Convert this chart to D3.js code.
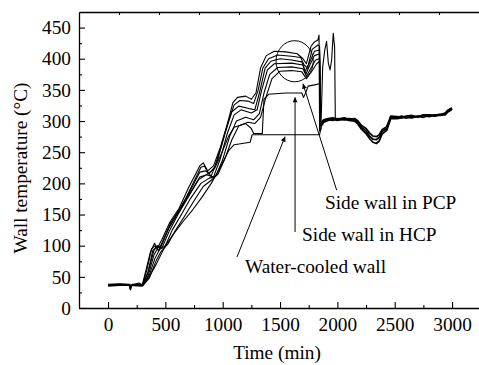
<!DOCTYPE html>
<html>
<head>
<meta charset="utf-8">
<script src="https://cdn.jsdelivr.net/npm/d3@7"></script>
<style>
  body { margin: 0; background: #fff; }
  svg { display: block; }
  svg text { font-family: 'Liberation Serif', 'Times New Roman', serif; }
</style>
</head>
<body>
<div id="chart"></div>
<script>
// [time (min), wall temperature (°C)]
const waterCooled = [[0,36],[100,37],[185,36],[192,30],[200,36],[260,38],[300,36],[360,50],[420,70],[500,100],[580,121],[660,140],[740,158],[820,178],[900,200],[980,226],[1050,252],[1100,262],[1240,266],[1256,278],[1845,278],[1860,292]];
const hcpWall = [[0,37],[100,38],[190,37],[197,31],[205,37],[270,40],[300,37],[350,58],[390,92],[420,98],[460,100],[530,128],[610,152],[700,180],[790,206],[860,214],[930,224],[990,248],[1050,275],[1100,290],[1200,296],[1250,288],[1270,280],[1345,280],[1360,335],[1400,343],[1550,345],[1690,345],[1705,338],[1725,346],[1745,356],[1800,358],[1845,360],[1852,292],[1860,293]];
const pcp1 = [[0,38],[100,39],[190,38],[200,33],[210,38],[300,38],[330,60],[370,90],[405,104],[430,96],[470,110],[540,138],[620,160],[700,192],[800,228],[830,233],[870,220],[920,228],[980,258],[1040,295],[1090,330],[1130,338],[1200,340],[1250,335],[1290,345],[1330,385],[1380,405],[1450,412],[1550,411],[1650,408],[1700,400],[1730,392],[1770,420],[1800,427],[1830,430],[1840,438],[1845,284],[1856,286],[1872,387],[1890,414],[1906,428],[1921,393],[1936,382],[1950,398],[1964,441],[1976,419],[1982,305],[1990,303]];
const pcp2 = [[0,37],[100,38],[190,37],[197,29],[205,37],[300,36],[340,62],[380,95],[410,100],[440,92],[480,108],[550,138],[630,158],[710,188],[810,226],[840,228],[880,215],[930,226],[990,262],[1050,300],[1100,326],[1150,333],[1220,332],[1270,328],[1310,350],[1350,385],[1400,400],[1480,406],[1600,404],[1680,402],[1710,390],[1740,385],[1780,415],[1830,422],[1845,420],[1852,300],[1860,295]];
const pcp3 = [[0,36],[100,37],[190,36],[300,37],[345,55],[400,92],[430,100],[460,97],[520,125],[600,152],[700,182],[800,218],[850,220],[900,212],[960,240],[1020,280],[1080,315],[1140,324],[1230,320],[1280,318],[1320,345],[1370,385],[1420,396],[1500,400],[1600,398],[1690,395],[1720,380],[1760,395],[1800,412],[1845,414],[1852,300],[1860,296]];
const pcp4 = [[0,36],[100,37],[300,36],[350,52],[400,85],[440,98],[470,96],[530,122],[610,150],[700,178],[800,210],[860,214],[920,210],[980,240],[1040,280],[1100,310],[1160,318],[1250,313],[1300,318],[1340,350],[1390,382],[1450,392],[1600,393],[1700,390],[1725,375],[1760,390],[1800,405],[1845,408],[1852,298],[1860,295]];
const pcp5 = [[0,35],[100,36],[300,36],[355,50],[410,80],[450,94],[500,100],[560,125],[640,150],[720,176],[810,200],[880,208],[940,212],[1000,238],[1060,275],[1120,300],[1200,306],[1270,302],[1320,312],[1360,345],[1410,375],[1480,386],[1600,387],[1700,384],[1730,372],[1770,385],[1810,398],[1845,400],[1852,296],[1860,293]];
const pcp6 = [[0,36],[100,37],[300,35],[360,48],[420,76],[460,90],[520,102],[590,125],[670,148],[750,172],[830,195],[900,205],[960,215],[1020,240],[1080,270],[1140,292],[1220,298],[1280,296],[1330,306],[1380,340],[1430,368],[1500,380],[1600,381],[1690,379],[1730,368],[1770,378],[1820,392],[1845,396],[1852,294],[1860,292]];
// after ~1860 min all thermocouples run together
const tailA = [[1860,295],[1880,300],[1920,303],[1960,301],[2000,304],[2060,302],[2100,304],[2150,302],[2180,298],[2210,290],[2250,284],[2280,276],[2310,271],[2340,270],[2365,274],[2390,283],[2430,288],[2455,300],[2465,306],[2520,306],[2560,308],[2600,305],[2650,308],[2700,307],[2750,309],[2800,307],[2850,310],[2900,309],[2940,312],[2960,316],[2985,319],[3000,318]];
const tailB = [[1860,292],[1880,298],[1920,301],[1960,303],[2000,301],[2060,303],[2100,301],[2150,300],[2180,295],[2210,287],[2250,280],[2280,272],[2310,266],[2340,264],[2365,268],[2390,279],[2430,285],[2455,298],[2465,304],[2520,304],[2560,305],[2600,306],[2650,305],[2700,308],[2750,306],[2800,309],[2850,308],[2900,310],[2940,310],[2960,314],[2985,317],[3000,320]];
const tailC = [[1860,297],[1880,302],[1920,304],[1960,305],[2000,303],[2060,305],[2100,303],[2150,304],[2180,300],[2210,293],[2250,288],[2280,281],[2310,276],[2340,275],[2365,278],[2390,286],[2430,291],[2455,303],[2465,308],[2520,307],[2560,306],[2600,308],[2650,309],[2700,306],[2750,310],[2800,310],[2850,309],[2900,311],[2940,313],[2960,317],[2985,320],[3000,321]];

const series = [waterCooled, hcpWall, pcp1, pcp2, pcp3, pcp4, pcp5, pcp6];
const tails = [tailA, tailB, tailC];

const xTicks = [0, 500, 1000, 1500, 2000, 2500, 3000];
const xMinorTicks = [250, 750, 1250, 1750, 2250, 2750];
const yTicks = [0, 50, 100, 150, 200, 250, 300, 350, 400, 450];
const yMinorTicks = [25, 75, 125, 175, 225, 275, 325, 375, 425];

// highlighted region (circle) : [tmin, tmax, Tmin, Tmax]
const circleBox = [1465, 1790, 363, 429];

const labels = [
  { text: 'Side wall in PCP', x: 1892, y: 159 },
  { text: 'Side wall in HCP', x: 1692, y: 107.5 },
  { text: 'Water-cooled wall', x: 1195, y: 56 }
];
const arrows = [
  { from: [1994, 189], to: [1700, 360] },
  { from: [1631, 122], to: [1631, 338] },
  { from: [1125, 82], to: [1544, 275] }
];

const margin = { top: 12, right: 0, bottom: 57, left: 79 };
const width = 479 - margin.left - margin.right;
const height = 365 - margin.top - margin.bottom;
const fontSize = 19.3;
const serif = "'Liberation Serif', 'Times New Roman', serif";

const svg = d3.select('#chart')
  .append('svg')
  .attr('width', width + margin.left + margin.right)
  .attr('height', height + margin.top + margin.bottom);

const g = svg.append('g')
  .attr('transform', 'translate(' + margin.left + ',' + margin.top + ')');

const x = d3.scaleLinear().domain([-253, 3235]).range([0, width]);
const y = d3.scaleLinear().domain([0, 475]).range([height, 0]);
const topScale = d3.scaleLinear().domain([0, 10]).range([0, width]);

// axes
g.append('g')
  .attr('class', 'axis')
  .attr('transform', 'translate(0,' + height + ')')
  .call(d3.axisBottom(x).tickValues(xTicks).tickFormat(d3.format('d'))
    .tickSizeInner(-6).tickSizeOuter(0).tickPadding(9.5));
g.append('g')
  .attr('class', 'axis')
  .attr('transform', 'translate(0,' + height + ')')
  .call(d3.axisBottom(x).tickValues(xMinorTicks).tickSize(-3).tickFormat(''))
  .select('.domain').remove();

g.append('g')
  .attr('class', 'axis')
  .call(d3.axisLeft(y).tickValues(yTicks).tickFormat(d3.format('d'))
    .tickSizeInner(-6).tickSizeOuter(0).tickPadding(8));
g.append('g')
  .attr('class', 'axis')
  .call(d3.axisLeft(y).tickValues(yMinorTicks).tickSize(-3).tickFormat(''))
  .select('.domain').remove();

g.append('g')
  .attr('class', 'axis')
  .call(d3.axisTop(topScale).tickValues(d3.range(1, 10)).tickSizeInner(-3).tickSizeOuter(0).tickFormat(''));

g.selectAll('.axis')
  .attr('font-family', serif)
  .attr('font-size', fontSize);
g.selectAll('.domain').attr('stroke', '#000').attr('stroke-width', 1.3);
g.selectAll('.tick line').attr('stroke', '#000').attr('stroke-width', 1.1);
g.selectAll('.tick text').attr('fill', '#000');

// data lines
const line = d3.line()
  .x(d => x(d[0]))
  .y(d => y(d[1]));

g.selectAll('.series')
  .data(series)
  .join('path')
  .attr('class', 'series')
  .attr('fill', 'none')
  .attr('stroke', '#000')
  .attr('stroke-width', 1.1)
  .attr('stroke-linejoin', 'round')
  .attr('d', line);

g.selectAll('.tail')
  .data(tails)
  .join('path')
  .attr('class', 'tail')
  .attr('fill', 'none')
  .attr('stroke', '#000')
  .attr('stroke-width', 1.7)
  .attr('stroke-linejoin', 'round')
  .attr('d', line);

// circle round the peaks
g.append('ellipse')
  .attr('cx', (x(circleBox[0]) + x(circleBox[1])) / 2)
  .attr('cy', (y(circleBox[2]) + y(circleBox[3])) / 2)
  .attr('rx', (x(circleBox[1]) - x(circleBox[0])) / 2)
  .attr('ry', (y(circleBox[2]) - y(circleBox[3])) / 2)
  .attr('fill', 'none')
  .attr('stroke', '#000')
  .attr('stroke-width', 1);

// annotations
svg.append('defs').append('marker')
  .attr('id', 'arrow')
  .attr('viewBox', '0 0 10 10')
  .attr('refX', 10)
  .attr('refY', 5)
  .attr('markerWidth', 8)
  .attr('markerHeight', 5)
  .attr('markerUnits', 'userSpaceOnUse')
  .attr('orient', 'auto')
  .append('path')
  .attr('d', 'M0,0L10,5L0,10z')
  .attr('fill', '#000');

g.selectAll('.arrow')
  .data(arrows)
  .join('line')
  .attr('class', 'arrow')
  .attr('x1', d => x(d.from[0]))
  .attr('y1', d => y(d.from[1]))
  .attr('x2', d => x(d.to[0]))
  .attr('y2', d => y(d.to[1]))
  .attr('stroke', '#000')
  .attr('stroke-width', 1)
  .attr('marker-end', 'url(#arrow)');

g.selectAll('.label')
  .data(labels)
  .join('text')
  .attr('class', 'label')
  .attr('x', d => x(d.x))
  .attr('y', d => y(d.y))
  .attr('font-size', fontSize)
  .attr('fill', '#000')
  .text(d => d.text);

// axis titles
svg.append('text')
  .attr('x', margin.left + width / 2 - 2)
  .attr('y', 359)
  .attr('text-anchor', 'middle')
  .attr('font-size', fontSize)
  .text('Time (min)');

svg.append('text')
  .attr('transform', 'translate(27,' + (margin.top + 156) + ') rotate(-90)')
  .attr('text-anchor', 'middle')
  .attr('font-size', fontSize)
  .text('Wall temperature (°C)');
</script>
</body>
</html>
